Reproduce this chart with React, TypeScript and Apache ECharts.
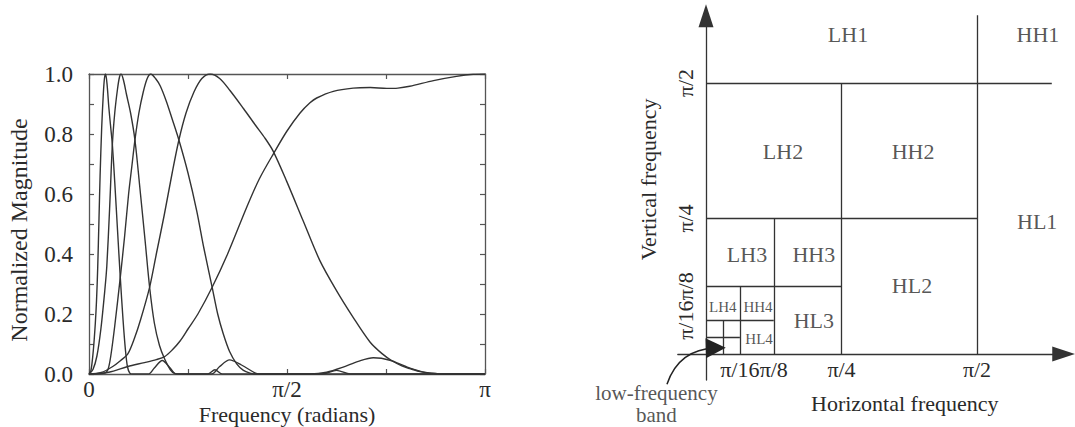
import React, { useEffect, useRef } from "react";
import * as echarts from "echarts";

const FONT = '"Liberation Serif", "Times New Roman", serif';
const INK = "#2a2a2a";

// ---------- Left chart: frequency in units of π, normalized magnitude ----------
const band1: number[][] = [
  [0, 0], [0.005, 0.012], [0.011, 0.08], [0.016, 0.17], [0.019, 0.245], [0.022, 0.355],
  [0.0253, 0.52], [0.028, 0.66], [0.032, 0.82], [0.036, 0.93], [0.039, 0.985], [0.042, 1.0],
  [0.046, 0.96], [0.05, 0.89], [0.055, 0.82], [0.059, 0.765], [0.065, 0.64], [0.072, 0.48],
  [0.079, 0.322], [0.086, 0.18], [0.092, 0.08], [0.097, 0.025], [0.103, 0.003], [0.11, 0],
  [0.15, 0], [0.165, 0.02], [0.185, 0.045], [0.205, 0.02], [0.22, 0], [0.3, 0],
  [0.318, 0.014], [0.336, 0], [1, 0],
];
const band2: number[][] = [
  [0, 0], [0.01, 0.015], [0.02, 0.06], [0.03, 0.15], [0.04, 0.28], [0.045, 0.36],
  [0.052, 0.55], [0.059, 0.765], [0.065, 0.87], [0.072, 0.95], [0.077, 0.99], [0.081, 1.0],
  [0.087, 0.98], [0.095, 0.93], [0.105, 0.87], [0.116, 0.78], [0.13, 0.6], [0.142, 0.44],
  [0.153, 0.29], [0.165, 0.17], [0.178, 0.095], [0.191, 0.05], [0.205, 0.015], [0.216, 0.002],
  [0.23, 0], [0.31, 0], [0.33, 0.025], [0.355, 0.047], [0.385, 0.03], [0.42, 0.003],
  [0.43, 0], [0.59, 0], [0.625, 0.012], [0.66, 0], [1, 0],
];
const band3: number[][] = [
  [0, 0], [0.04, 0.003], [0.048, 0.015], [0.055, 0.06], [0.065, 0.16], [0.079, 0.322],
  [0.09, 0.46], [0.1, 0.6], [0.108, 0.69], [0.116, 0.78], [0.126, 0.87], [0.137, 0.94],
  [0.147, 0.985], [0.156, 1.0], [0.168, 0.985], [0.18, 0.96], [0.195, 0.91], [0.21, 0.85],
  [0.227, 0.78], [0.25, 0.67], [0.272, 0.544], [0.29, 0.42], [0.311, 0.289], [0.325, 0.2],
  [0.339, 0.134], [0.355, 0.075], [0.373, 0.034], [0.39, 0.012], [0.407, 0.003], [0.42, 0],
  [0.56, 0], [0.6, 0.006], [0.64, 0.022], [0.68, 0.042], [0.718, 0.054], [0.76, 0.046],
  [0.8, 0.025], [0.84, 0.008], [0.88, 0.001], [0.9, 0], [1, 0],
];
const band4: number[][] = [
  [0, 0], [0.031, 0.005], [0.06, 0.025], [0.08, 0.045], [0.098, 0.067], [0.115, 0.12],
  [0.13, 0.18], [0.153, 0.289], [0.17, 0.4], [0.19, 0.53], [0.21, 0.67], [0.227, 0.78],
  [0.245, 0.87], [0.265, 0.94], [0.285, 0.985], [0.306, 1.0], [0.33, 0.985], [0.356, 0.945],
  [0.39, 0.885], [0.42, 0.83], [0.445, 0.785], [0.465, 0.743], [0.499, 0.643], [0.541, 0.51],
  [0.583, 0.378], [0.625, 0.278], [0.667, 0.189], [0.71, 0.106], [0.74, 0.068], [0.764, 0.045],
  [0.79, 0.027], [0.81, 0.018], [0.836, 0.008], [0.87, 0.002], [0.9, 0], [1, 0],
];
const band5: number[][] = [
  [0, 0], [0.05, 0.006], [0.098, 0.025], [0.14, 0.038], [0.17, 0.048], [0.191, 0.058],
  [0.21, 0.08], [0.23, 0.11], [0.25, 0.15], [0.275, 0.2], [0.311, 0.289], [0.35, 0.4],
  [0.398, 0.555], [0.43, 0.65], [0.467, 0.737], [0.5, 0.81], [0.533, 0.87], [0.558, 0.904],
  [0.575, 0.92], [0.617, 0.942], [0.667, 0.953], [0.71, 0.955], [0.752, 0.952], [0.78, 0.953],
  [0.81, 0.959], [0.87, 0.978], [0.928, 0.992], [0.97, 0.999], [1, 1],
];
const bands = [band1, band2, band3, band4, band5];
const freqTickLabels: Record<string, string> = { "0": "0", "0.5": "π/2", "1": "π" };

// ---------- Right diagram: frequencies in units of π ----------
const partitionSegments: number[][][] = [
  [[0, 0.5], [0.638, 0.5]],
  [[0.5, 0], [0.5, 0.629]],
  [[0.25, 0], [0.25, 0.5]],
  [[0, 0.25], [0.5, 0.25]],
  [[0.125, 0], [0.125, 0.25]],
  [[0, 0.125], [0.25, 0.125]],
  [[0.0625, 0], [0.0625, 0.125]],
  [[0, 0.0625], [0.125, 0.0625]],
  [[0.03125, 0], [0.03125, 0.0625]],
  [[0, 0.03125], [0.0625, 0.03125]],
];
const bandNames: (string | number)[][] = [
  [0.262, 0.589, "LH1"], [0.6125, 0.589, "HH1"], [0.142, 0.373, "LH2"], [0.382, 0.373, "HH2"],
  [0.611, 0.245, "HL1"], [0.0756, 0.1845, "LH3"], [0.199, 0.1845, "HH3"], [0.38, 0.127, "HL2"],
  [0.199, 0.061, "HL3"],
];
const smallBandNames: (string | number)[][] = [
  [0.031, 0.0867, "LH4"], [0.096, 0.0867, "HH4"], [0.098, 0.0277, "HL4"],
];
const diagTickValues = [1 / 16, 1 / 8, 1 / 4, 1 / 2];
const diagTickLabels = ["π/16", "π/8", "π/4", "π/2"];
const lowBandArrow: number[][] = [[-0.072, -0.056], [0.018, 0.011]];
const lowBandLabel: (string | number)[] = [-0.0915, -0.0923, "low-frequency\nband"];

// diagram geometry (pixels per π, origin position)
const DIAG_SCALE = 542;
const DIAG_X0 = 706;
const DIAG_Y0 = 354;
const DX_MIN = -0.052, DX_MAX = 0.66, DY_MIN = -0.048, DY_MAX = 0.624;

function diagLabel(v: number): string {
  const i = diagTickValues.findIndex((t) => Math.abs(t - v) < 1e-6);
  return i >= 0 ? diagTickLabels[i] : "";
}

export default function App() {
  const ref = useRef<HTMLDivElement>(null);
  useEffect(() => {
    const chart = echarts.init(ref.current!, null, { renderer: "svg" });
    const frame = { show: true, onZero: false, lineStyle: { color: "#555", width: 1.3 } };
    const inTick = { show: true, inside: true, length: 5, lineStyle: { color: "#555", width: 1.2 } };
    const diagLine = { color: "#333", width: 1.3 };
    const option: any = {
      animation: false,
      backgroundColor: "#fff",
      textStyle: { fontFamily: FONT, color: INK },
      grid: [
        { left: 89, top: 74, width: 396, height: 300, outerBoundsMode: "none" },
        {
          left: DIAG_X0 + DX_MIN * DIAG_SCALE,
          top: DIAG_Y0 - DY_MAX * DIAG_SCALE,
          width: (DX_MAX - DX_MIN) * DIAG_SCALE,
          height: (DY_MAX - DY_MIN) * DIAG_SCALE,
          outerBoundsMode: "none",
        },
      ],
      xAxis: [
        {
          gridIndex: 0, type: "value", min: 0, max: 1, interval: 0.25,
          axisLine: frame, axisTick: inTick, splitLine: { show: false },
          axisLabel: {
            fontFamily: FONT, fontSize: 23, color: INK, margin: 4,
            formatter: (v: number) => freqTickLabels[String(v)] ?? "",
          },
          name: "Frequency (radians)", nameLocation: "middle", nameGap: 29, nameMoveOverlap: false,
          nameTextStyle: { fontFamily: FONT, fontSize: 22, color: INK },
        },
        {
          gridIndex: 0, type: "value", min: 0, max: 1, interval: 0.25, position: "top",
          axisLine: frame, axisTick: inTick, axisLabel: { show: false }, splitLine: { show: false },
        },
        {
          gridIndex: 1, type: "value", min: DX_MIN, max: DX_MAX,
          offset: DY_MIN * DIAG_SCALE,
          axisLine: {
            show: true, onZero: false, symbol: ["none", "triangle"], symbolSize: [15, 23],
            lineStyle: diagLine,
          },
          axisTick: { show: false }, splitLine: { show: false },
          axisLabel: {
            fontFamily: FONT, fontSize: 22, color: INK, margin: 4,
            customValues: diagTickValues, formatter: (v: number) => diagLabel(v),
          },
          name: "Horizontal frequency", nameLocation: "middle", nameGap: 38, nameMoveOverlap: false,
          nameTextStyle: { fontFamily: FONT, fontSize: 22, color: INK, padding: [0, 0, 0, 68] },
        },
      ],
      yAxis: [
        {
          gridIndex: 0, type: "value", min: 0, max: 1, interval: 0.1,
          axisLine: frame, axisTick: inTick, splitLine: { show: false },
          axisLabel: {
            fontFamily: FONT, fontSize: 23, color: INK, margin: 16,
            formatter: (v: number) => (Math.round(v * 10) % 2 === 0 ? v.toFixed(1) : ""),
          },
          name: "Normalized Magnitude", nameLocation: "middle", nameGap: 58, nameMoveOverlap: false,
          nameTextStyle: { fontFamily: FONT, fontSize: 24, color: INK, padding: [0, 12, 0, 0] },
        },
        {
          gridIndex: 0, type: "value", min: 0, max: 1, interval: 0.1, position: "right",
          axisLine: frame, axisTick: inTick, axisLabel: { show: false }, splitLine: { show: false },
        },
        {
          gridIndex: 1, type: "value", min: DY_MIN, max: DY_MAX,
          offset: DX_MIN * DIAG_SCALE,
          axisLine: {
            show: true, onZero: false, symbol: ["none", "triangle"], symbolSize: [15, 23],
            lineStyle: diagLine,
          },
          axisTick: { show: false }, splitLine: { show: false },
          axisLabel: {
            fontFamily: FONT, fontSize: 22, color: INK, margin: 10, rotate: 90,
            customValues: diagTickValues, formatter: (v: number) => diagLabel(v),
          },
          name: "Vertical frequency", nameLocation: "middle", nameGap: 47, nameMoveOverlap: false,
          nameTextStyle: { fontFamily: FONT, fontSize: 22, color: INK, padding: [0, 0, 0, 37] },
        },
      ],
      series: [
        ...bands.map((b, i) => ({
          type: "line", name: "band" + (i + 1), xAxisIndex: 0, yAxisIndex: 0,
          data: b, showSymbol: false, symbol: "none", smooth: 0.3,
          lineStyle: { color: "#333", width: 1.4 },
        })),
        {
          type: "lines", coordinateSystem: "cartesian2d", xAxisIndex: 2, yAxisIndex: 2,
          polyline: false, symbol: "none",
          lineStyle: { ...diagLine, opacity: 1 },
          data: partitionSegments.map((c) => ({ coords: c })),
        },
        {
          type: "lines", coordinateSystem: "cartesian2d", xAxisIndex: 2, yAxisIndex: 2,
          clip: false, symbol: ["none", "triangle"], symbolSize: 20,
          lineStyle: { color: "#222", width: 1.5, opacity: 1, curveness: 0.35 },
          data: [{ coords: lowBandArrow }],
        },
        {
          type: "scatter", xAxisIndex: 2, yAxisIndex: 2, symbolSize: 0, clip: false,
          data: bandNames,
          label: {
            show: true, position: "inside", formatter: (p: any) => p.value[2],
            fontFamily: FONT, fontSize: 22, color: INK,
          },
        },
        {
          type: "scatter", xAxisIndex: 2, yAxisIndex: 2, symbolSize: 0, clip: false,
          data: smallBandNames,
          label: {
            show: true, position: "inside", formatter: (p: any) => p.value[2],
            fontFamily: FONT, fontSize: 15, color: INK,
          },
        },
        {
          type: "scatter", xAxisIndex: 2, yAxisIndex: 2, symbolSize: 0, clip: false,
          data: [lowBandLabel],
          label: {
            show: true, position: "inside", formatter: (p: any) => p.value[2],
            fontFamily: FONT, fontSize: 21, color: INK, lineHeight: 22, align: "center",
          },
        },
      ],
    };
    chart.setOption(option);
    return () => chart.dispose();
  }, []);
  return (
    <div
      ref={ref}
      style={{ position: "fixed", left: 0, top: 0, width: 1075, height: 427, background: "#fff" }}
    />
  );
}
